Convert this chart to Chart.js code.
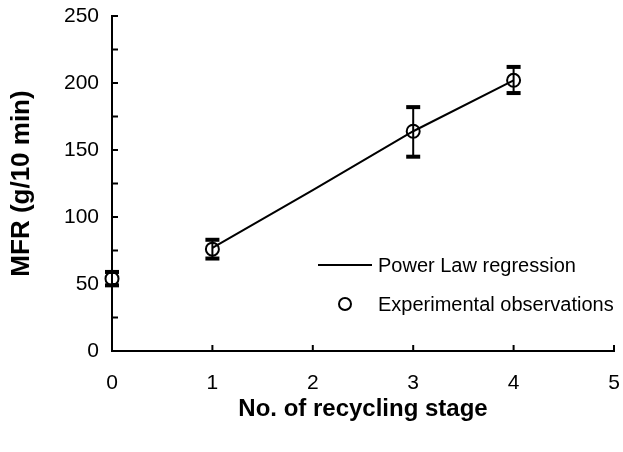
<!DOCTYPE html>
<html>
<head>
<meta charset="utf-8">
<script src="https://cdn.jsdelivr.net/npm/chart.js@4/dist/chart.umd.min.js"></script>
<style>
  html, body { margin: 0; padding: 0; background: #fff; }
</style>
</head>
<body>
<canvas id="chart" width="623" height="452"></canvas>
<script>
// data
const stages = [0, 1, 3, 4];
const mfr = [54, 76, 164, 202];
const errLow = [49, 69, 145, 192.5];
const errHigh = [59, 83, 182, 212];
const fitStages = [1, 2, 3, 4];
const fitMfr = [77, 120, 164, 202];
const xTickValues = [0, 1, 2, 3, 4, 5];
const yLabelled = [0, 50, 100, 150, 200, 250];

const FONT = '"Liberation Sans", Arial, sans-serif';

// error bars with thick caps
const errorBars = {
    id: 'errorBars',
    afterDatasetsDraw(chart) {
        const { ctx, scales: { x, y } } = chart;
        ctx.save();
        ctx.strokeStyle = '#000';
        ctx.fillStyle = '#000';
        ctx.lineWidth = 2;
        stages.forEach((s, i) => {
            const px = x.getPixelForValue(s);
            const top = y.getPixelForValue(errHigh[i]);
            const bot = y.getPixelForValue(errLow[i]);
            ctx.beginPath();
            ctx.moveTo(px, top);
            ctx.lineTo(px, bot);
            ctx.stroke();
            ctx.fillRect(px - 7, top - 2, 14, 4);
            ctx.fillRect(px - 7, bot - 2, 14, 4);
        });
        ctx.restore();
    }
};

// inward tick marks
const innerTicks = {
    id: 'innerTicks',
    afterDraw(chart) {
        const { ctx, chartArea, scales: { x, y } } = chart;
        ctx.save();
        ctx.strokeStyle = '#000';
        ctx.lineWidth = 2;
        y.ticks.forEach(t => {
            const py = y.getPixelForValue(t.value);
            ctx.beginPath();
            ctx.moveTo(chartArea.left, py);
            ctx.lineTo(chartArea.left + 6, py);
            ctx.stroke();
        });
        x.ticks.forEach(t => {
            const px = x.getPixelForValue(t.value);
            ctx.beginPath();
            ctx.moveTo(px, chartArea.bottom);
            ctx.lineTo(px, chartArea.bottom - 6);
            ctx.stroke();
        });
        ctx.restore();
    }
};

// legend inside the plot
const innerLegend = {
    id: 'innerLegend',
    afterDraw(chart) {
        const { ctx, chartArea } = chart;
        const lx = chartArea.left + 206;
        const ly = chartArea.top + 249;
        ctx.save();
        ctx.strokeStyle = '#000';
        ctx.fillStyle = '#000';
        ctx.lineWidth = 2;
        ctx.beginPath();
        ctx.moveTo(lx, ly);
        ctx.lineTo(lx + 54, ly);
        ctx.stroke();
        ctx.beginPath();
        ctx.arc(lx + 27, ly + 39, 6, 0, Math.PI * 2);
        ctx.stroke();
        ctx.font = '20px ' + FONT;
        ctx.textBaseline = 'middle';
        ctx.fillText('Power Law regression', lx + 60, ly + 1);
        ctx.fillText('Experimental observations', lx + 60, ly + 40);
        ctx.restore();
    }
};

const noPad = s => { s.paddingTop = 0; s.paddingBottom = 0; s.paddingLeft = 0; s.paddingRight = 0; };

new Chart(document.getElementById('chart'), {
    type: 'scatter',
    data: {
        datasets: [
            {
                label: 'Power Law regression',
                type: 'line',
                data: fitStages.map((s, i) => ({ x: s, y: fitMfr[i] })),
                borderColor: '#000',
                borderWidth: 2,
                pointRadius: 0,
                fill: false,
                tension: 0
            },
            {
                label: 'Experimental observations',
                data: stages.map((s, i) => ({ x: s, y: mfr[i] })),
                borderColor: '#000',
                backgroundColor: 'rgba(0,0,0,0)',
                borderWidth: 2,
                pointRadius: 6.5,
                pointStyle: 'circle',
                clip: false
            }
        ]
    },
    options: {
        responsive: false,
        animation: false,
        devicePixelRatio: 1,
        layout: { padding: { top: 16, right: 9, left: 0, bottom: 0 } },
        plugins: {
            legend: { display: false },
            tooltip: { enabled: false }
        },
        scales: {
            x: {
                type: 'linear',
                min: 0,
                max: 5,
                afterBuildTicks: s => { s.ticks = xTickValues.map(v => ({ value: v })); },
                afterFit: s => { s.height = 101; noPad(s); },
                grid: { display: true, drawOnChartArea: false, drawTicks: false },
                border: { display: true, color: '#000', width: 2 },
                ticks: { color: '#000', padding: 20, font: { family: FONT, size: 21 } },
                title: {
                    display: true,
                    text: 'No. of recycling stage',
                    color: '#000',
                    font: { family: FONT, size: 24, weight: 'bold', lineHeight: 1.2 },
                    padding: { top: 0, bottom: 28 }
                }
            },
            y: {
                min: 0,
                max: 250,
                ticks: {
                    stepSize: 25,
                    color: '#000',
                    padding: 13,
                    font: { family: FONT, size: 21 },
                    callback: v => yLabelled.includes(v) ? v : ''
                },
                afterFit: s => { s.width = 112; noPad(s); },
                grid: { display: true, drawOnChartArea: false, drawTicks: false },
                border: { display: true, color: '#000', width: 2 },
                title: {
                    display: true,
                    text: 'MFR (g/10 min)',
                    color: '#000',
                    font: { family: FONT, size: 26, weight: 'bold', lineHeight: 1.2 },
                    padding: { top: 6, bottom: 0 }
                }
            }
        }
    },
    plugins: [errorBars, innerTicks, innerLegend]
});
</script>
</body>
</html>
